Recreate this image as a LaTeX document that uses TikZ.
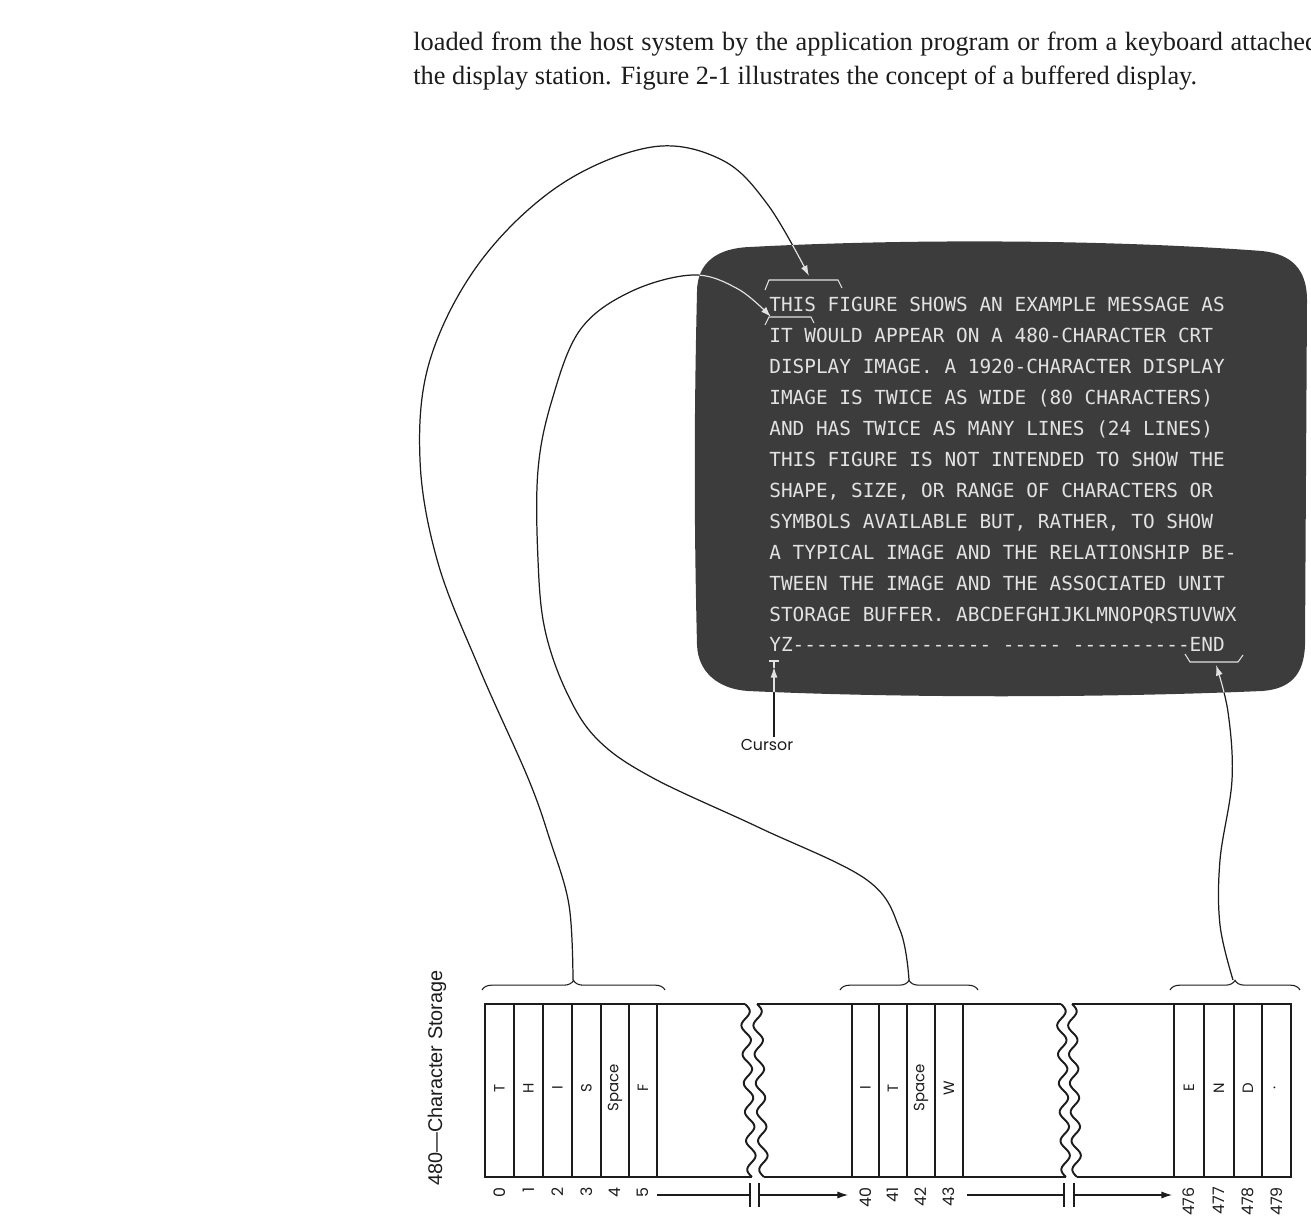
\documentclass[tikz,border=0pt]{standalone}
\usepackage{fontspec}
\setmainfont{Liberation Serif}
\newfontfamily\crtfont{DejaVu Sans Mono}
\newfontfamily\geofont{Poppins}
\newfontfamily\helvfont{Liberation Sans}
\usetikzlibrary{arrows.meta,decorations.pathreplacing}
\definecolor{scr}{HTML}{3C3C3C}
\definecolor{crtw}{HTML}{E2E2E2}
\definecolor{ink}{HTML}{1C1C1C}
\newcommand\screenpath{(697,292) .. controls (697,262) and (718,248) .. (750,247) .. controls (900,239) and (1100,239) .. (1262,251) .. controls (1292,254) and (1307,270) .. (1307,300) -- (1305,645) .. controls (1304,675) and (1290,689) .. (1262,691) .. controls (1100,698) and (900,698) .. (748,691) .. controls (718,689) and (698,672) .. (697,645) .. controls (694,520) and (694,420) .. cycle}
\newcommand\curveA{plot[smooth, tension=0.6] coordinates {(br1) (569,905) (550,840) (528,778) (480,670) (438,563) (420,460) (430,360) (480,262) (560,185) (652,147) (722,160) (768,205) (thisbr)}}
\newcommand\curveB{plot[smooth, tension=0.6] coordinates {(br2) (900,930) (867,880) (760,828) (653,778) (598,740) (567,693) (545,630) (538,560) (538,470) (552,400) (580,330) (630,292) (693,275) (738,289) (itbr)}}
\newcommand\curveC{plot[smooth, tension=0.6] coordinates {(br3) (1220,925) (1220,860) (1232,780) (1228,712) (endbr)}}
\begin{document}
\begin{tikzpicture}[x=0.02cm,y=-0.02cm,
  crt/.style={anchor=base west, inner sep=0, text=crtw, font=\crtfont\fontsize{11.04}{12}\selectfont},
  cellletter/.style={rotate=90, inner sep=0, text=ink, font=\geofont\fontsize{8.5}{9}\selectfont},
  idx/.style={rotate=90, anchor=east, inner sep=0, text=ink, font=\geofont\fontsize{9}{10}\selectfont},
  body/.style={anchor=base west, inner sep=0, text=ink, font=\fontsize{15}{18}\selectfont},
  outline/.style={line width=1.1pt, draw=ink},
  divider/.style={line width=0.7pt, draw=ink},
  conn/.style={line width=0.7pt, draw=ink},
  arrowtip/.style={-{Latex[length=6pt,width=4pt]}},
  bracebox/.style={decorate, decoration={brace, amplitude=5.5pt}, line width=0.6pt, draw=ink},
  scrmark/.style={line width=0.6pt, draw=crtw},
]
\useasboundingbox (0,0) rectangle (1311,1219);
\clip (0,0) rectangle (1311,1219);

% body text
\node[body] (t2) at (413,51) {\hbox to 531pt{loaded from the host system by the application program or from a keyboard attached to}};
\node[body] (t3) at (413,85) {the display station. Figure 2-1 illustrates the concept of a buffered display.};

% screen
\fill[scr] \screenpath;

% anchor coordinates
\coordinate (br1) at (573,980);
\coordinate (br2) at (909,980);
\coordinate (br3) at (1233,980);
\coordinate (thisbr) at (809,276);
\coordinate (itbr) at (771,317);
\coordinate (endbr) at (1216,665);
\coordinate (cursor) at (774,667);
\coordinate (curstart) at (774,737);

% CRT text
\node[crt] (l1) at (769,312) {THIS FIGURE SHOWS AN EXAMPLE MESSAGE AS};
\node[crt] (l2) at (769,342.9) {IT WOULD APPEAR ON A 480-CHARACTER CRT};
\node[crt] (l3) at (769,373.8) {DISPLAY IMAGE. A 1920-CHARACTER DISPLAY};
\node[crt] (l4) at (769,404.7) {IMAGE IS TWICE AS WIDE (80 CHARACTERS)};
\node[crt] (l5) at (769,435.6) {AND HAS TWICE AS MANY LINES (24 LINES)};
\node[crt] (l6) at (769,466.5) {THIS FIGURE IS NOT INTENDED TO SHOW THE};
\node[crt] (l7) at (769,497.4) {SHAPE, SIZE, OR RANGE OF CHARACTERS OR};
\node[crt] (l8) at (769,528.3) {SYMBOLS AVAILABLE BUT, RATHER, TO SHOW};
\node[crt] (l9) at (769,559.2) {A TYPICAL IMAGE AND THE RELATIONSHIP BE-};
\node[crt] (l10) at (769,590.1) {TWEEN THE IMAGE AND THE ASSOCIATED UNIT};
\node[crt] (l11) at (769,621) {STORAGE BUFFER. ABCDEFGHIJKLMNOPQRSTUVWX};
\node[crt] (l12) at (769,651.9) {YZ-{}-{}-{}-{}-{}-{}-{}-{}-{}-{}-{}-{}-{}-{}-{}-{}-{} -{}-{}-{}-{}-{} -{}-{}-{}-{}-{}-{}-{}-{}-{}-{}END};

% screen marks
\draw[scrmark] (765,290) -- (769,280) -- (838,280) -- (842,288);
\draw[scrmark] (765,325) -- (769,317) -- (811,317) -- (814,323);
\draw[scrmark] (1185,654) -- (1190,662) -- (1238,662) -- (1243,655);
\draw[scrmark] (769,661) -- (779,661) (774,661) -- (774,668);

% connectors (black)
\draw[conn, arrowtip] \curveA;
\draw[conn, arrowtip] \curveB;
\draw[conn, arrowtip] \curveC;
\draw[conn, arrowtip] (curstart) -- (cursor);
% parts inside the screen in light colour
\begin{scope}
\clip \screenpath;
\draw[conn, draw=crtw, arrowtip] \curveA;
\draw[conn, draw=crtw, arrowtip] \curveB;
\draw[conn, draw=crtw, arrowtip] \curveC;
\draw[conn, draw=crtw, arrowtip] (curstart) -- (cursor);
\end{scope}

\node[inner sep=0, text=ink, font=\geofont\fontsize{9}{10}\selectfont, anchor=north] (cursorlbl) at (767,739) {Cursor};

% braces
\draw[bracebox] (482,990) -- (665,990);
\draw[bracebox] (840,990) -- (978,990);
\draw[bracebox] (1170,990) -- (1300,990);

% storage label
\node[rotate=90, inner sep=0, text=ink, font=\helvfont\fontsize{11.3}{13}\selectfont] (lbl) at (437,1078) {480—Character Storage};

% box 1
\draw[outline] (745,1004) -- (485,1004) -- (485,1177) -- (752,1177);
\draw[outline] plot[domain=0:1, samples=90, smooth] ({745+7*\x+4.5*sin(6*360*\x)}, {1004+173*\x});
% box 2
\draw[outline] (757,1004) -- (1061,1004);
\draw[outline] (764,1177) -- (1066,1177);
\draw[outline] plot[domain=0:1, samples=90, smooth] ({757+7*\x+4.5*sin(6*360*\x)}, {1004+173*\x});
\draw[outline] plot[domain=0:1, samples=90, smooth] ({1061+5*\x+4.5*sin(6*360*\x)}, {1004+173*\x});
% box 3
\draw[outline] (1072,1004) -- (1291,1004) -- (1291,1177) -- (1077,1177);
\draw[outline] plot[domain=0:1, samples=90, smooth] ({1072+5*\x+4.5*sin(6*360*\x)}, {1004+173*\x});

% dividers
\foreach \xx in {514,543,572,601,629,657,852,879,907,935,963,1174,1204,1234,1262}
  \draw[divider] (\xx,1004) -- (\xx,1177);

% cell letters
\node[cellletter] (c0) at (499.5,1088) {T};
\node[cellletter] (c1) at (528.5,1088) {H};
\node[cellletter] (c2) at (557.5,1088) {I};
\node[cellletter] (c3) at (586.5,1088) {S};
\node[cellletter] (c4) at (615,1088) {Space};
\node[cellletter] (c5) at (643,1088) {F};
\node[cellletter] (c40) at (865.5,1088) {I};
\node[cellletter] (c41) at (893,1088) {T};
\node[cellletter] (c42) at (921,1088) {Space};
\node[cellletter] (c43) at (949,1088) {W};
\node[cellletter] (c476) at (1189,1088) {E};
\node[cellletter] (c477) at (1219,1088) {N};
\node[cellletter] (c478) at (1248,1088) {D};
\node[cellletter] (c479) at (1276.5,1088) {·};

% index numbers
\node[idx] (n0) at (499.5,1187) {0};
\node[idx] (n1) at (528.5,1187) {1};
\node[idx] (n2) at (557.5,1187) {2};
\node[idx] (n3) at (586.5,1187) {3};
\node[idx] (n4) at (615,1187) {4};
\node[idx] (n5) at (643,1187) {5};
\node[idx] (n40) at (865.5,1187) {40};
\node[idx] (n41) at (893,1187) {41};
\node[idx] (n42) at (921,1187) {42};
\node[idx] (n43) at (949,1187) {43};
\node[idx] (n476) at (1189,1187) {476};
\node[idx] (n477) at (1219,1187) {477};
\node[idx] (n478) at (1248,1187) {478};
\node[idx] (n479) at (1276.5,1187) {479};

% index arrows
\coordinate (s1a) at (657,1195);
\coordinate (s1b) at (750,1195);
\coordinate (s2a) at (759,1195);
\coordinate (s2b) at (848,1195);
\coordinate (s3a) at (967,1195);
\coordinate (s3b) at (1064,1195);
\coordinate (s4a) at (1074,1195);
\coordinate (s4b) at (1172,1195);
\draw[conn, line width=0.6pt] (s1a) -- (s1b);
\draw[conn, line width=0.6pt] (750,1183) -- (750,1207) (759,1183) -- (759,1207);
\draw[conn, line width=0.6pt, arrowtip] (s2a) -- (s2b);
\draw[conn, line width=0.6pt] (s3a) -- (s3b);
\draw[conn, line width=0.6pt] (1064,1183) -- (1064,1207) (1074,1183) -- (1074,1207);
\draw[conn, line width=0.6pt, arrowtip] (s4a) -- (s4b);
\end{tikzpicture}
\end{document}
